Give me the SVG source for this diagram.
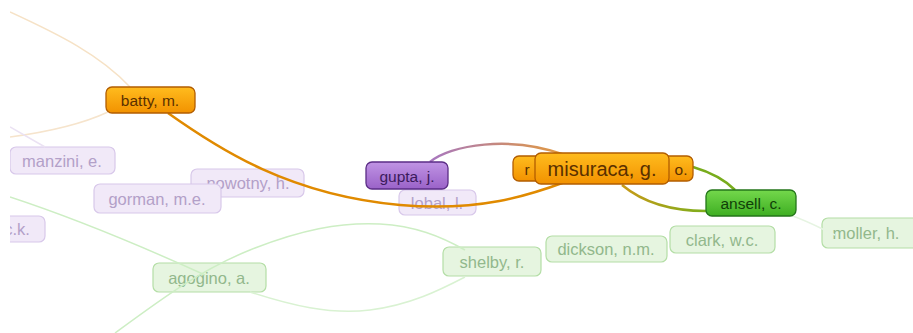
<svg xmlns="http://www.w3.org/2000/svg" width="913" height="333" viewBox="0 0 913 333">
<defs>
<clipPath id="clip"><rect x="10" y="0" width="903" height="333"/></clipPath>
<linearGradient id="gOr" x1="0" y1="0" x2="0" y2="1"><stop offset="0" stop-color="#ffbc1e"/><stop offset="1" stop-color="#f29200"/></linearGradient>
<linearGradient id="gPu" x1="0" y1="0" x2="0" y2="1"><stop offset="0" stop-color="#c094e4"/><stop offset="1" stop-color="#9a62c8"/></linearGradient>
<linearGradient id="gGr" x1="0" y1="0" x2="0" y2="1"><stop offset="0" stop-color="#74d84c"/><stop offset="1" stop-color="#3eae22"/></linearGradient>
<linearGradient id="gArc" x1="430" y1="0" x2="565" y2="0" gradientUnits="userSpaceOnUse"><stop offset="0" stop-color="#a777c0"/><stop offset="1" stop-color="#e39a3c"/></linearGradient>
<linearGradient id="gOl" x1="622" y1="0" x2="706" y2="0" gradientUnits="userSpaceOnUse"><stop offset="0" stop-color="#c89a18"/><stop offset="1" stop-color="#7cae1c"/></linearGradient>
</defs>
<style>
text{font-family:"Liberation Sans",Arial,sans-serif;font-size:15.5px;text-anchor:middle;dominant-baseline:central}
.fp rect{fill:#f1e9f8;stroke:#d8c8ea;stroke-width:1.2}
.fp text{fill:#b3a0c8;font-size:16.5px}
.fg rect{fill:#e6f5e0;stroke:#b4dea6;stroke-width:1.2}
.fg text{fill:#92b88c;font-size:16.5px}
.or rect{fill:url(#gOr);stroke:#b25d00;stroke-width:1.3}
.or text{fill:#5a3000}
.pu rect{fill:url(#gPu);stroke:#5b2d86;stroke-width:1.3}
.pu text{fill:#3c1a5c}
.gr rect{fill:url(#gGr);stroke:#24761a;stroke-width:1.3}
.gr text{fill:#103f08}
.faint{fill:none;stroke-width:1.5}
.strong{fill:none;stroke-width:2.5}
</style>
<g clip-path="url(#clip)">
<g id="faint-nodes">
<g id="n-manzini" class="fp"><rect x="10" y="147" width="105" height="27" rx="6"/><text x="62" y="161">manzini, e.</text></g>
<g id="n-nowotny" class="fp"><rect x="191" y="169" width="113" height="28" rx="6"/><text x="248" y="183">nowotny, h.</text></g>
<g id="n-gorman" class="fp"><rect x="94" y="184" width="127" height="29" rx="6"/><text x="157" y="199">gorman, m.e.</text></g>
<g id="n-ck" class="fp"><rect x="-30" y="216" width="75" height="26" rx="6"/><text x="17" y="229">c.k.</text></g>
<g id="n-lobal" class="fp"><rect x="399" y="190" width="77" height="25" rx="6"/><text x="437" y="203">lobal, l.</text></g>
<g id="n-agogino" class="fg"><rect x="153" y="263" width="113" height="29" rx="6"/><text x="209" y="278">agogino, a.</text></g>
<g id="n-shelby" class="fg"><rect x="443" y="247" width="98" height="29" rx="6"/><text x="492" y="262">shelby, r.</text></g>
<g id="n-dickson" class="fg"><rect x="546" y="236" width="121" height="26" rx="6"/><text x="606" y="249">dickson, n.m.</text></g>
<g id="n-clark" class="fg"><rect x="670" y="226" width="105" height="27" rx="6"/><text x="722" y="240">clark, w.c.</text></g>
<g id="n-moller" class="fg"><rect x="822" y="218" width="100" height="30" rx="6"/><text x="866" y="233">moller, h.</text></g>
</g>
<g id="connectors">
<path class="faint" stroke="#f6e2c6" d="M10,12 C60,35 100,55 130,87"/>
<path class="faint" stroke="#f6e4cc" d="M108,112 C80,125 40,133 10,137"/>
<path class="faint" stroke="#ebe2f3" d="M10,127 L45,147"/>
<path class="faint" stroke="#cdeec4" d="M10,197 C80,220 150,250 205,275"/>
<path class="faint" stroke="#cdeec4" d="M115,333 C160,300 200,270 250,250 C300,230 340,222 380,224 C415,226 440,236 465,250"/>
<path class="faint" stroke="#d9f2d2" d="M250,292 C290,305 330,315 370,310 C410,305 440,290 465,277"/>
<path class="faint" stroke="#e6f4e2" d="M790,215 C810,222 820,228 835,235"/>
<path class="strong" stroke="#e08a00" d="M168,113 C220,150 290,195 400,205 C480,212 530,195 565,182"/>
<path class="strong" stroke="url(#gArc)" d="M430,162 C450,145 510,135 565,155"/>
<path class="strong" stroke="#78ac1c" d="M693,167 C710,172 725,180 735,190"/>
<path class="strong" stroke="url(#gOl)" d="M622,185 C640,200 665,211 706,211"/>
</g>
<g id="n-batty" class="or"><rect x="106" y="87" width="89" height="26" rx="6"/><text x="150" y="100">batty, m.</text></g>
<g id="n-gupta" class="pu"><rect x="366" y="162" width="82" height="27" rx="6"/><text x="407" y="176">gupta, j.</text></g>
<g id="n-r" class="or"><rect x="513" y="156" width="180" height="25" rx="6"/><text x="527" y="169">r</text><text x="681" y="169">o.</text></g>
<g id="n-misuraca" class="or"><rect x="535" y="153" width="134" height="31" rx="6"/><text x="602" y="169" style="font-size:20px">misuraca, g.</text></g>
<g id="n-ansell" class="gr"><rect x="706" y="190" width="90" height="26" rx="6"/><text x="751" y="203">ansell, c.</text></g>
</g>
</svg>
